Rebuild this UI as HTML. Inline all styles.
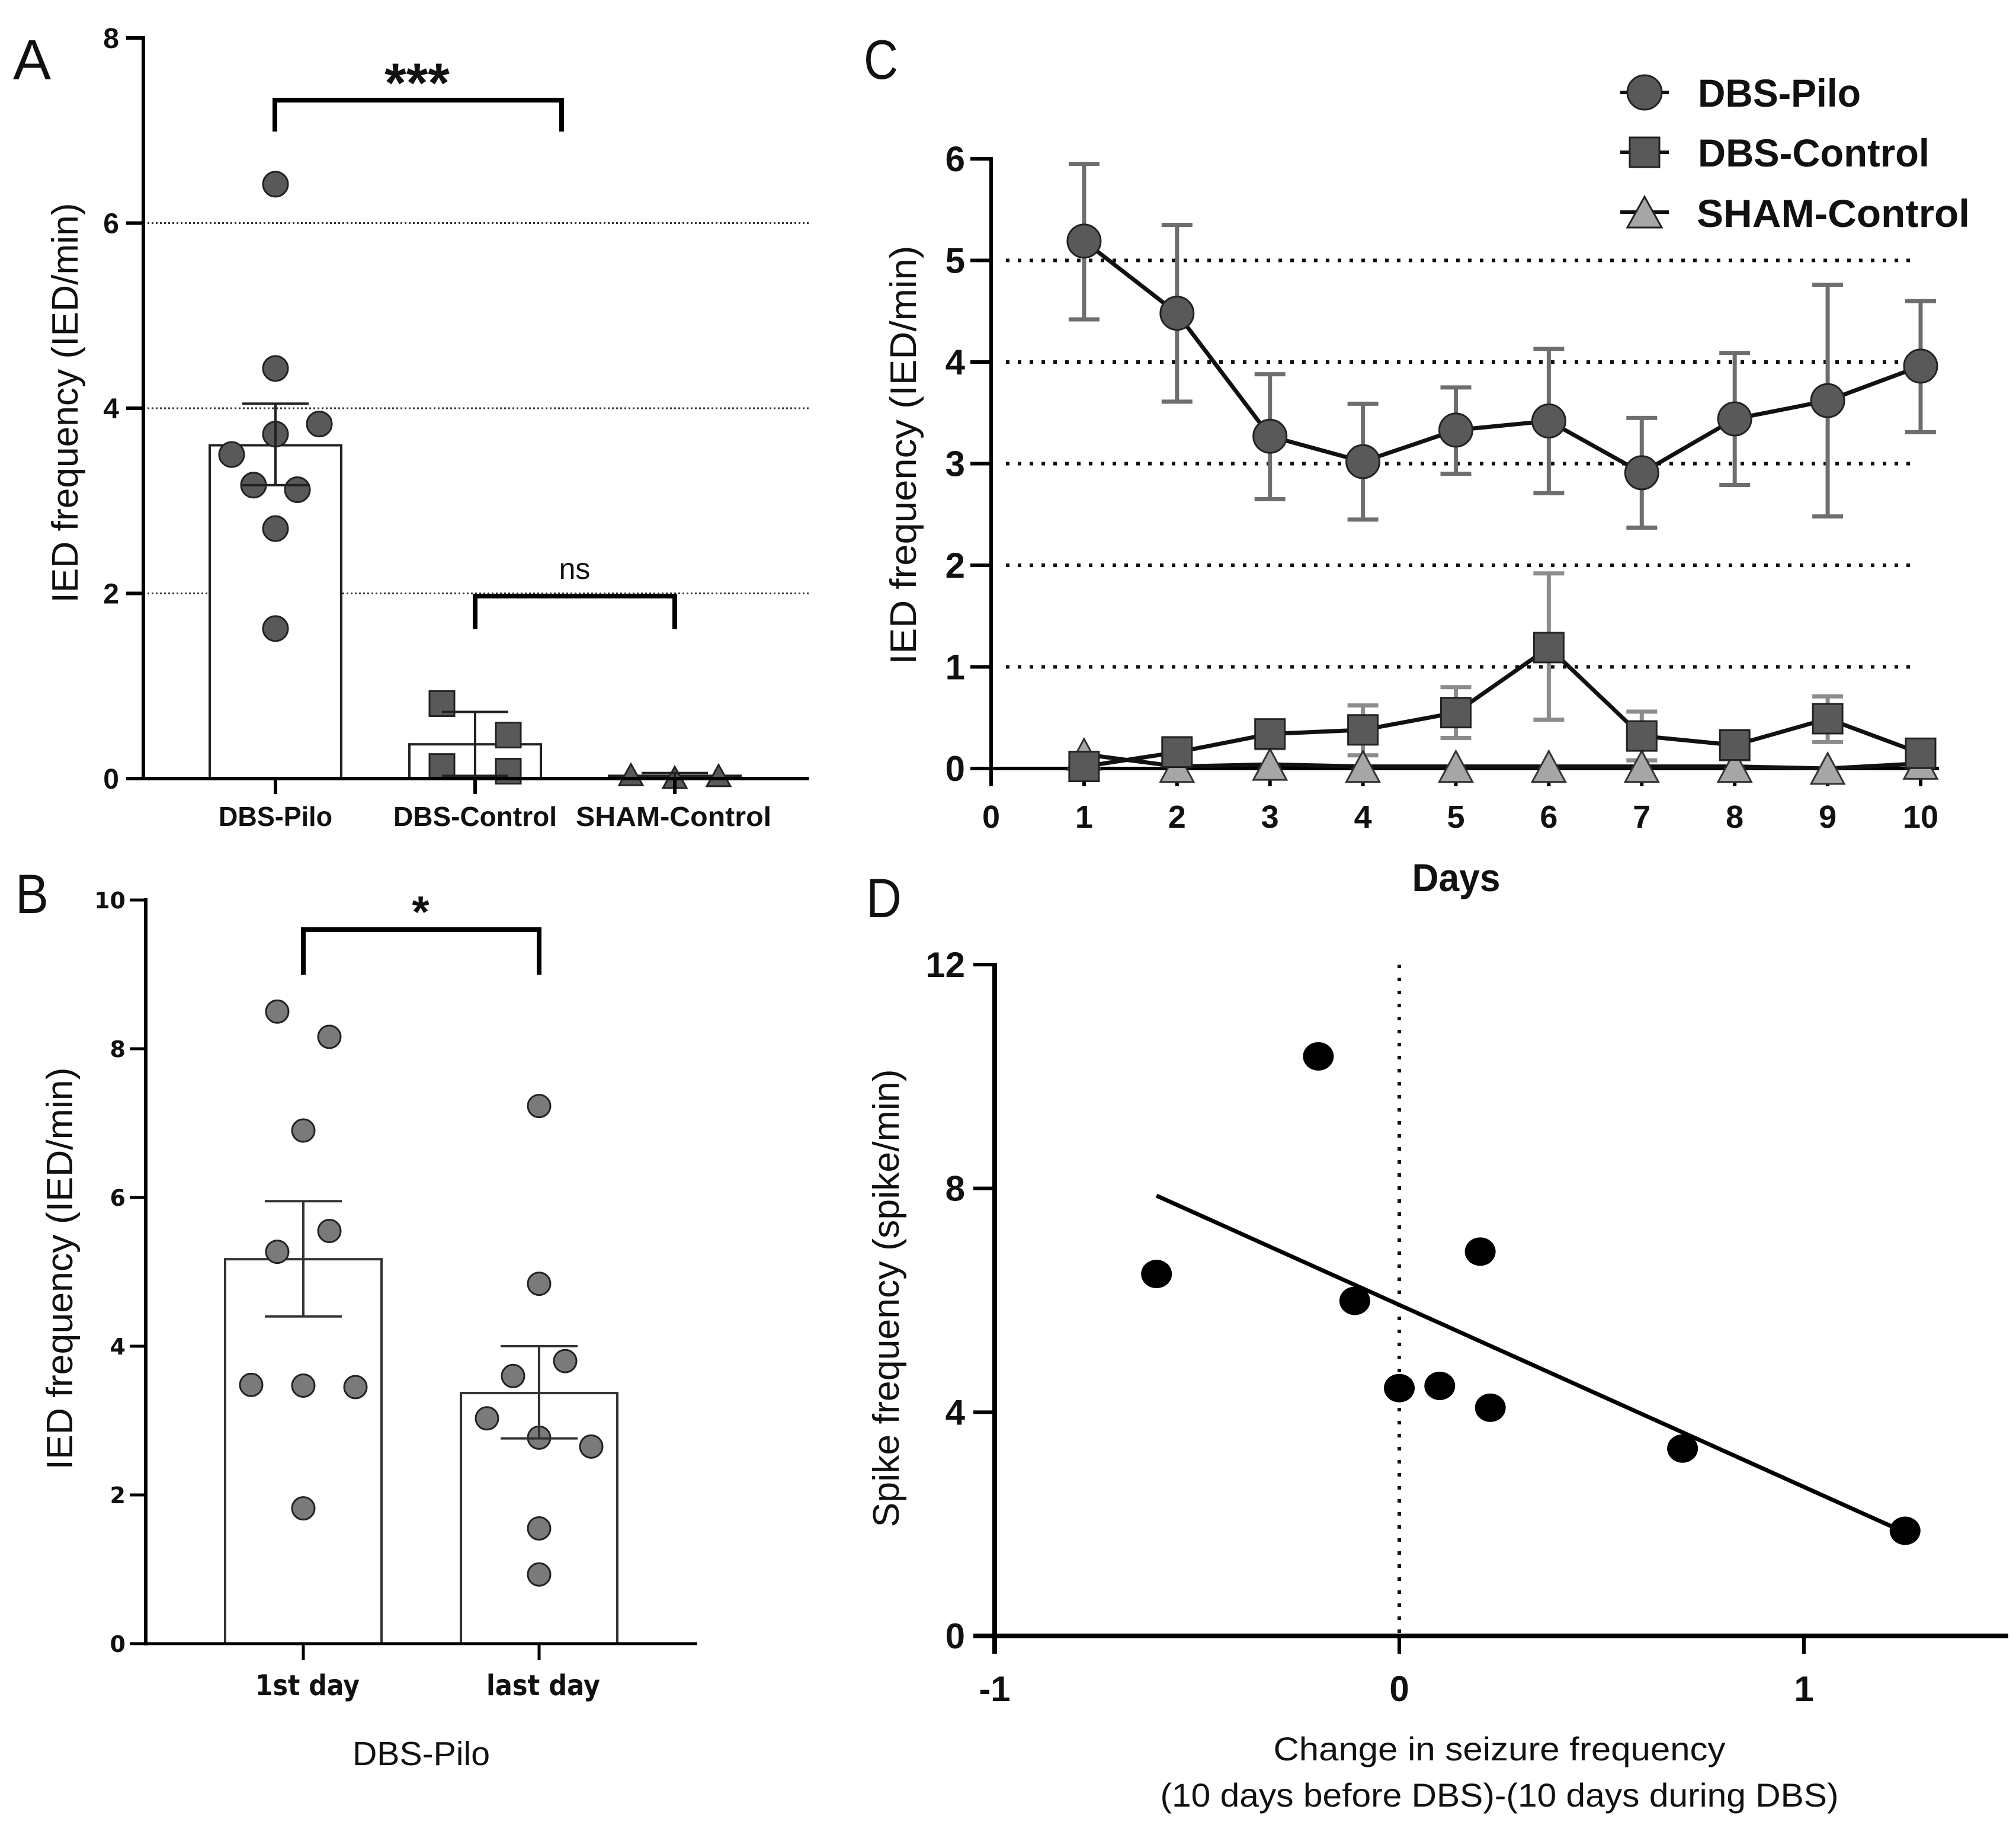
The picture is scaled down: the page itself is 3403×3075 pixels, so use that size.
<!DOCTYPE html>
<html lang="en">
<head>
<meta charset="utf-8">
<title>IED frequency figure</title>
<style>
html,body{margin:0;padding:0;background:#fff}
svg{display:block}
text{font-family:"Liberation Sans",sans-serif;fill:#111}
</style>
</head>
<body>
<svg id="fig" xmlns="http://www.w3.org/2000/svg" width="3403" height="3075" viewBox="0 0 3403 3075">
<rect x="0" y="0" width="3403" height="3075" fill="#fff"/>
<g id="gA" transform="translate(0,2)"></g>
<g id="gB" transform="translate(0,2)"></g>
<g id="gC" transform="translate(0,2)"></g>
<g id="gD" transform="translate(0,1)"></g>

<text x="22" y="134" font-size="96" textLength="64" lengthAdjust="spacingAndGlyphs">A</text>
<text x="26" y="1541" font-size="94" textLength="56" lengthAdjust="spacingAndGlyphs">B</text>
<text x="1458" y="133" font-size="94" textLength="58" lengthAdjust="spacingAndGlyphs">C</text>
<text x="1462" y="1548" font-size="94" textLength="60" lengthAdjust="spacingAndGlyphs">D</text>

<text transform="translate(131,680) rotate(-90)" text-anchor="middle" font-size="62" textLength="675" lengthAdjust="spacingAndGlyphs">IED frequency (IED/min)</text>
<text x="704" y="172" text-anchor="middle" font-size="94" font-weight="bold">***</text>
<text x="970" y="977" text-anchor="middle" font-size="50">ns</text>

<text transform="translate(122,2141) rotate(-90)" text-anchor="middle" font-size="62" textLength="679" lengthAdjust="spacingAndGlyphs">IED frequency (IED/min)</text>
<text x="710" y="1565" text-anchor="middle" font-size="75" font-weight="bold">*</text>
<text x="711" y="2979" text-anchor="middle" font-size="57" textLength="232" lengthAdjust="spacingAndGlyphs">DBS-Pilo</text>

<text transform="translate(1546,768) rotate(-90)" text-anchor="middle" font-size="62" textLength="707" lengthAdjust="spacingAndGlyphs">IED frequency (IED/min)</text>
<text x="2458" y="1504" text-anchor="middle" font-size="66" font-weight="bold" textLength="149" lengthAdjust="spacingAndGlyphs">Days</text>

<g>
  <g>
    <line x1="2735" x2="2817" y1="156" y2="156" stroke="#111" stroke-width="6"/>
    <circle cx="2776" cy="156" r="29" fill="#595959" stroke="#222" stroke-width="3"/>
    <text x="2866" y="180" font-size="66" font-weight="bold" textLength="275" lengthAdjust="spacingAndGlyphs">DBS-Pilo</text>
  </g>
  <g>
    <line x1="2735" x2="2817" y1="257" y2="257" stroke="#111" stroke-width="6"/>
    <rect x="2751" y="232" width="50" height="50" fill="#595959" stroke="#222" stroke-width="3"/>
    <text x="2866" y="281" font-size="66" font-weight="bold" textLength="391" lengthAdjust="spacingAndGlyphs">DBS-Control</text>
  </g>
  <g>
    <line x1="2735" x2="2817" y1="358" y2="358" stroke="#111" stroke-width="6"/>
    <polygon points="2776,332 2805,384 2747,384" fill="#a6a6a6" stroke="#222" stroke-width="3"/>
    <text x="2864" y="383" font-size="66" font-weight="bold" textLength="461" lengthAdjust="spacingAndGlyphs">SHAM-Control</text>
  </g>
</g>

<text transform="translate(1517,2191) rotate(-90)" text-anchor="middle" font-size="62" textLength="773" lengthAdjust="spacingAndGlyphs">Spike frequency (spike/min)</text>
<text x="2531" y="2971" text-anchor="middle" font-size="56" textLength="763" lengthAdjust="spacingAndGlyphs">Change in seizure frequency</text>
<text x="2531" y="3049" text-anchor="middle" font-size="56" textLength="1145" lengthAdjust="spacingAndGlyphs">(10 days before DBS)-(10 days during DBS)</text>
</svg>

<script>
/* Panel A data */
const aTicks = [0, 2, 4, 6, 8];
const aGrid = [2, 4, 6];
const aCategories = ["DBS-Pilo", "DBS-Control", "SHAM-Control"];
const aMeans = [3.6, 0.37, 0.03];
const aErrLow = [3.17, 0.03, 0.0];
const aErrHigh = [4.05, 0.72, 0.06];
const aPiloValues = [6.42, 4.43, 3.83, 3.72, 3.5, 3.17, 3.12, 2.7, 1.62];
const aPiloSlots = [0, 0, 2, 0, -2, -1, 1, 0, 0];
const aControlValues = [0.81, 0.47, 0.13, 0.08];
const aControlSlots = [-1, 1, -1, 1];
const aShamValues = [0.03, 0.0, 0.02];
const aShamSlots = [-2, 0, 2];

/* Panel B data */
const bTicks = [0, 2, 4, 6, 8, 10];
const bCategories = ["1st day", "last day"];
const bMeans = [5.17, 3.37];
const bErrLow = [4.4, 2.76];
const bErrHigh = [5.95, 4.0];
const bFirstValues = [8.5, 8.16, 6.9, 5.55, 5.27, 3.48, 3.47, 3.45, 1.82];
const bFirstSlots = [-1, 1, 0, 1, -1, -2, 0, 2, 0];
const bLastValues = [7.23, 4.84, 3.8, 3.6, 3.03, 2.77, 2.65, 1.55, 0.93];
const bLastSlots = [0, 0, 1, -1, -2, 0, 2, 0, 0];

/* Panel C data */
const cYTicks = [0, 1, 2, 3, 4, 5, 6];
const cGrid = [1, 2, 3, 4, 5];
const cXTicks = [0, 1, 2, 3, 4, 5, 6, 7, 8, 9, 10];
const cDays = [1, 2, 3, 4, 5, 6, 7, 8, 9, 10];
const cPilo = [5.19, 4.48, 3.27, 3.02, 3.33, 3.42, 2.91, 3.44, 3.62, 3.96];
const cPiloHigh = [5.95, 5.35, 3.88, 3.59, 3.75, 4.13, 3.45, 4.09, 4.76, 4.6];
const cPiloLow = [4.42, 3.61, 2.65, 2.45, 2.9, 2.71, 2.37, 2.79, 2.48, 3.31];
const cControl = [0.02, 0.16, 0.34, 0.38, 0.55, 1.19, 0.32, 0.23, 0.49, 0.15];
const cControlHigh = [0.04, 0.3, 0.46, 0.62, 0.8, 1.92, 0.56, 0.37, 0.71, 0.26];
const cControlLow = [0, 0.02, 0.2, 0.13, 0.3, 0.48, 0.08, 0.09, 0.26, 0.04];
const cSham = [0.14, 0.02, 0.04, 0.02, 0.02, 0.02, 0.02, 0.02, 0.0, 0.05];

/* Panel D data */
const dYTicks = [0, 4, 8, 12];
const dXTicks = [-1, 0, 1];
const dChange = [-0.6, -0.2, -0.11, 0, 0.1, 0.2, 0.225, 0.7, 1.25];
const dSpike = [6.47, 10.36, 5.99, 4.43, 4.47, 6.87, 4.08, 3.35, 1.88];
const dFitX = [-0.6, 1.25];
const dFitY = [7.87, 1.85];

const NS = "http://www.w3.org/2000/svg";
function linear(d0, d1, r0, r1) {
  return function (v) { return r0 + (v - d0) * (r1 - r0) / (d1 - d0); };
}
function mk(parent, tag, name, attrs) {
  const el = document.createElementNS(NS, tag);
  
  
  for (const k in attrs) el.setAttribute(k, attrs[k]);
  parent.appendChild(el);
  return el;
}
function line(p, name, x1, y1, x2, y2, stroke, w, extra) {
  return mk(p, 'line', name, Object.assign({ x1: x1, y1: y1, x2: x2, y2: y2, stroke: stroke, 'stroke-width': w }, extra || {}));
}
function label(p, name, x, y, str, attrs) {
  const el = mk(p, 'text', name, Object.assign({ x: x, y: y }, attrs));
  el.textContent = str;
  return el;
}
function errorBar(p, name, x, yLow, yHigh, cap, stroke, w) {
  const g = mk(p, 'g', name, {});
  line(g, name + '-stem', x, yLow, x, yHigh, stroke, w);
  line(g, name + '-cap-high', x - cap, yHigh, x + cap, yHigh, stroke, w);
  line(g, name + '-cap-low', x - cap, yLow, x + cap, yLow, stroke, w);
}
function circle(p, name, x, y, r, fill, stroke, w) {
  mk(p, 'circle', name, { cx: x, cy: y, r: r, fill: fill, stroke: stroke, 'stroke-width': w });
}
function square(p, name, x, y, s, fill, stroke, w) {
  mk(p, 'rect', name, { x: x - s / 2, y: y - s / 2, width: s, height: s, fill: fill, stroke: stroke, 'stroke-width': w });
}
function triangle(p, name, x, y, b, h, fill, stroke, w) {
  mk(p, 'polygon', name, {
    points: x + ',' + (y - h / 2) + ' ' + (x + b / 2) + ',' + (y + h / 2) + ' ' + (x - b / 2) + ',' + (y + h / 2),
    fill: fill, stroke: stroke, 'stroke-width': w
  });
}
function bracket(p, name, x1, x2, top, bottom, w) {
  mk(p, 'path', name, {
    d: 'M' + x1 + ' ' + bottom + 'V' + top + 'H' + x2 + 'V' + bottom,
    fill: 'none', stroke: '#000', 'stroke-width': w, 'stroke-linejoin': 'miter'
  });
}

/* ---------- Panel A ---------- */
(function () {
  const g = document.getElementById('gA');
  const y = linear(0, 8, 1312, 62);
  const cx = [465, 802, 1139];
  aGrid.forEach(function (v) {
    line(g, 'a-gridline-' + v, 242, y(v), 1366, y(v), '#333', 3, { 'stroke-dasharray': '3 4' });
  });
  aCategories.forEach(function (c, i) {
    mk(g, 'rect', 'a-bar-' + i, { x: cx[i] - 111, y: y(aMeans[i]), width: 222, height: y(0) - y(aMeans[i]), fill: '#fff', stroke: '#222', 'stroke-width': 4 });
  });
  const step = 37;
  aPiloValues.forEach(function (v, i) {
    circle(g, 'a-point-dbs-pilo', cx[0] + aPiloSlots[i] * step, y(v), 21, '#595959', '#222', 3);
  });
  aControlValues.forEach(function (v, i) {
    square(g, 'a-point-dbs-control', cx[1] + aControlSlots[i] * 56, y(v), 42, '#595959', '#222', 3);
  });
  aShamValues.forEach(function (v, i) {
    triangle(g, 'a-point-sham-control', cx[2] + aShamSlots[i] * 37, y(v) - 2, 40, 36, '#595959', '#222', 3);
  });
  aCategories.forEach(function (c, i) {
    errorBar(g, 'a-error-bar-' + i, cx[i], y(aErrLow[i]), y(aErrHigh[i]), 56, '#222', 4);
  });
  line(g, 'a-y-axis', 242, 59, 242, 1315, '#000', 6);
  line(g, 'a-x-axis', 213, 1312, 1366, 1312, '#000', 6);
  aTicks.forEach(function (v) {
    line(g, 'a-y-tick-' + v, 213, y(v), 242, y(v), '#000', 6);
    label(g, 'a-y-tick-label-' + v, 201, y(v) + 17, String(v), { 'text-anchor': 'end', 'font-size': 48, 'font-weight': 'bold' });
  });
  const widths = [192, 276, 330];
  aCategories.forEach(function (c, i) {
    line(g, 'a-x-tick-' + i, cx[i], 1312, cx[i], 1338, '#000', 6);
    label(g, 'a-x-tick-label-' + i, cx[i] - (i === 2 ? 2 : 0), 1392, c, { 'text-anchor': 'middle', 'font-size': 46, 'font-weight': 'bold', textLength: widths[i], lengthAdjust: 'spacingAndGlyphs' });
  });
  bracket(g, 'a-significance-bracket-stars', 464, 948, 167, 220, 8);
  bracket(g, 'a-significance-bracket-ns', 802, 1139, 1004, 1060, 8);
})();

/* ---------- Panel B ---------- */
(function () {
  const g = document.getElementById('gB');
  const y = linear(0, 10, 2772, 1517);
  const cx = [512, 910];
  bCategories.forEach(function (c, i) {
    mk(g, 'rect', 'b-bar-' + i, { x: cx[i] - 132, y: y(bMeans[i]), width: 264, height: y(0) - y(bMeans[i]), fill: '#fff', stroke: '#333', 'stroke-width': 4 });
  });
  const step = 44;
  bFirstValues.forEach(function (v, i) {
    circle(g, 'b-point-1st-day', cx[0] + bFirstSlots[i] * step, y(v), 19, '#7a7a7a', '#222', 3);
  });
  bLastValues.forEach(function (v, i) {
    circle(g, 'b-point-last-day', cx[1] + bLastSlots[i] * step, y(v), 19, '#7a7a7a', '#222', 3);
  });
  bCategories.forEach(function (c, i) {
    errorBar(g, 'b-error-bar-' + i, cx[i], y(bErrLow[i]), y(bErrHigh[i]), 65, '#333', 4);
  });
  line(g, 'b-y-axis', 246, 1514, 246, 2775, '#000', 6);
  line(g, 'b-x-axis', 219, 2772, 1177, 2772, '#000', 5);
  bTicks.forEach(function (v) {
    line(g, 'b-y-tick-' + v, 219, y(v), 246, y(v), '#000', 5);
    label(g, 'b-y-tick-label-' + v, 212, y(v) + 14, String(v), { 'text-anchor': 'end', 'font-size': 38, 'font-weight': 'bold', style: 'font-family:"DejaVu Sans",sans-serif' });
  });
  const centers = [519, 917];
  const widths = [176, 192];
  bCategories.forEach(function (c, i) {
    line(g, 'b-x-tick-' + i, cx[i], 2772, cx[i], 2800, '#000', 5);
    label(g, 'b-x-tick-label-' + i, centers[i], 2859, c, { 'text-anchor': 'middle', 'font-size': 48, 'font-weight': 'bold', textLength: widths[i], lengthAdjust: 'spacingAndGlyphs', style: 'font-family:"DejaVu Sans",sans-serif' });
  });
  bracket(g, 'b-significance-bracket', 512, 910, 1567, 1643, 8);
})();

/* ---------- Panel C ---------- */
(function () {
  const g = document.getElementById('gC');
  const x = linear(0, 10, 1673, 3242);
  const y = linear(0, 6, 1295, 266);
  cGrid.forEach(function (v) {
    line(g, 'c-gridline-' + v, 1698, y(v), 3236, y(v), '#111', 6, { 'stroke-dasharray': '6 14' });
  });
  cDays.forEach(function (d, i) {
    errorBar(g, 'c-error-bar-control-day-' + d, x(d), y(cControlLow[i]), y(cControlHigh[i]), 26, '#8c8c8c', 7);
  });
  cDays.forEach(function (d, i) {
    errorBar(g, 'c-error-bar-pilo-day-' + d, x(d), y(cPiloLow[i]), y(cPiloHigh[i]), 26, '#6e6e6e', 7);
  });
  line(g, 'c-y-axis', 1673, 263, 1673, 1325, '#000', 6);
  line(g, 'c-x-axis', 1638, 1295, 3273, 1295, '#000', 6);
  cYTicks.forEach(function (v) {
    line(g, 'c-y-tick-' + v, 1638, y(v), 1673, y(v), '#000', 6);
    label(g, 'c-y-tick-label-' + v, 1629, y(v) + 21, String(v), { 'text-anchor': 'end', 'font-size': 60, 'font-weight': 'bold' });
  });
  cXTicks.forEach(function (v) {
    line(g, 'c-x-tick-' + v, x(v), 1295, x(v), 1325, '#000', 6);
    label(g, 'c-x-tick-label-' + v, x(v), 1395, String(v), { 'text-anchor': 'middle', 'font-size': 54, 'font-weight': 'bold' });
  });
  function polyline(name, values) {
    mk(g, 'polyline', name, {
      points: cDays.map(function (d, i) { return x(d) + ',' + y(values[i]); }).join(' '),
      fill: 'none', stroke: '#111', 'stroke-width': 7, 'stroke-linejoin': 'round'
    });
  }
  polyline('c-line-sham-control', cSham);
  cDays.forEach(function (d, i) {
    triangle(g, 'c-point-sham-control-day-' + d, x(d), y(cSham[i]), 56, 52, '#a6a6a6', '#333', 3);
  });
  polyline('c-line-dbs-control', cControl);
  cDays.forEach(function (d, i) {
    square(g, 'c-point-dbs-control-day-' + d, x(d), y(cControl[i]), 50, '#595959', '#222', 3);
  });
  polyline('c-line-dbs-pilo', cPilo);
  cDays.forEach(function (d, i) {
    circle(g, 'c-point-dbs-pilo-day-' + d, x(d), y(cPilo[i]), 28, '#595959', '#222', 3);
  });
})();

/* ---------- Panel D ---------- */
(function () {
  const g = document.getElementById('gD');
  const x = linear(-1, 1, 1679, 3045);
  const y = linear(0, 12, 2760, 1627);
  line(g, 'd-zero-reference-line', x(0), 1627, x(0), 2760, '#111', 6, { 'stroke-dasharray': '6 16' });
  dChange.forEach(function (c, i) {
    mk(g, 'ellipse', 'd-point', { cx: x(c), cy: y(dSpike[i]), rx: 26, ry: 24, fill: '#000' });
  });
  line(g, 'd-regression-line', x(dFitX[0]), y(dFitY[0]), x(dFitX[1]), y(dFitY[1]), '#000', 7);
  line(g, 'd-y-axis', 1679, 1624, 1679, 2790, '#000', 8);
  line(g, 'd-x-axis', 1643, 2760, 3390, 2760, '#000', 8);
  dYTicks.forEach(function (v) {
    line(g, 'd-y-tick-' + v, 1643, y(v), 1679, y(v), '#000', 6);
    label(g, 'd-y-tick-label-' + v, 1629, y(v) + 21, String(v), { 'text-anchor': 'end', 'font-size': 60, 'font-weight': 'bold' });
  });
  dXTicks.forEach(function (v) {
    line(g, 'd-x-tick-' + v, x(v), 2760, x(v), 2790, '#000', 6);
    label(g, 'd-x-tick-label-' + v, x(v), 2870, String(v), { 'text-anchor': 'middle', 'font-size': 60, 'font-weight': 'bold' });
  });
})();
</script>
</body>
</html>
